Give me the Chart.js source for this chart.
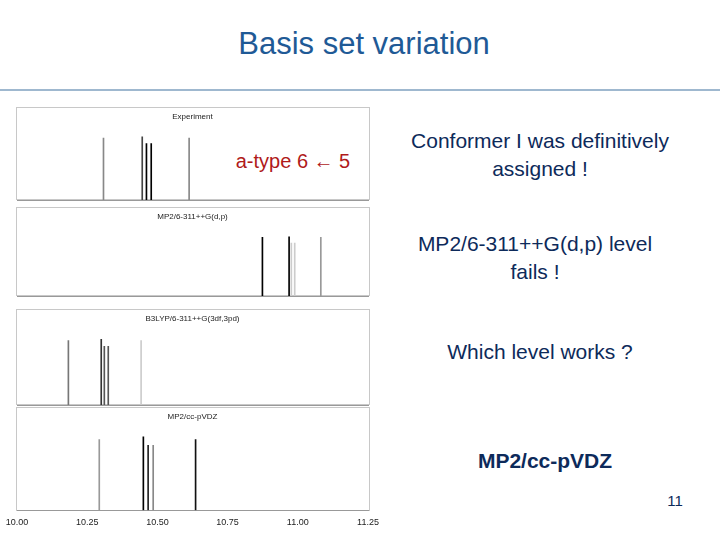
<!DOCTYPE html>
<html><head><meta charset="utf-8">
<script src="https://cdn.jsdelivr.net/npm/chart.js@4"></script>
<style>
body{margin:0;width:720px;height:540px;background:#fff;position:relative;font-family:"Liberation Sans",Arial,sans-serif;overflow:hidden}
.t{position:absolute;text-align:center}
.frame{position:absolute;border:1px solid #c8c8c8;box-sizing:border-box}
canvas{position:absolute}
</style></head><body>
<div class="t" style="left:0;width:728px;top:26px;font-size:31px;color:#1f5a96">Basis set variation</div>
<div style="position:absolute;left:0;top:89px;width:720px;height:2px;background:#9fb8cf"></div>
<div class="t" style="left:222px;width:142px;top:150px;font-size:20px;color:#b01a1a">a-type 6 ← 5</div>
<div class="t" style="left:385px;width:310px;top:127px;font-size:21px;line-height:28px;color:#0d2a5a">Conformer I was definitively assigned !</div>
<div class="t" style="left:400px;width:270px;top:230px;font-size:21px;line-height:28px;color:#0d2a5a">MP2/6-311++G(d,p) level fails !</div>
<div class="t" style="left:380px;width:320px;top:340px;font-size:21px;color:#0d2a5a">Which level works ?</div>
<div class="t" style="left:385px;width:320px;top:449px;font-size:21px;font-weight:bold;color:#0d2a5a">MP2/cc-pVDZ</div>
<div class="t" style="left:655px;width:40px;top:492px;font-size:15px;color:#0d2a5a">11</div>
<script>
const titles=["Experiment","MP2/6-311++G(d,p)","B3LYP/6-311++G(3df,3pd)","MP2/cc-pVDZ"];
const pos=[[10.308,10.446,10.461,10.478,10.613],[10.874,10.969,10.977,10.989,11.082],[10.183,10.300,10.311,10.325,10.442],[10.293,10.450,10.467,10.485,10.636]];
const hts=[[1.0,1.02,0.91,0.91,1.0],[1.0,1.01,0.90,0.90,1.0],[1.0,1.02,0.91,0.91,1.0],[1.0,1.04,0.92,0.92,1.0]];
const cols=[["#888","#444","#000","#000","#888"],["#000","#000","#ccc","#ccc","#999"],["#777","#333","#555","#555","#ccc"],["#999","#000","#222","#888","#111"]];
const xTicks=["10.00","10.25","10.50","10.75","11.00","11.25"];
const frames=[[107,199],[207,295],[309,404],[407,510]];
frames.forEach((f,i)=>{
  const d=document.createElement('div');d.className='frame';
  d.style.cssText=`left:16px;top:${f[0]}px;width:354px;height:${f[1]-f[0]+1}px`;
  document.body.appendChild(d);
  const c=document.createElement('canvas');
  const h=(i==3?f[1]-f[0]+22:f[1]-f[0]+4);
  c.style.cssText=`left:0;top:${f[0]}px;width:385px;height:${h}px`;
  c.width=385;c.height=h;document.body.appendChild(c);
  new Chart(c,{type:'bar',data:{datasets:[{data:pos[i].map((x,k)=>({x:x,y:hts[i][k]})),backgroundColor:cols[i],barThickness:1}]},
   options:{responsive:false,animation:false,events:[],layout:{padding:{left:17,right:17,top:0,bottom:0}},
    plugins:{legend:{display:false},tooltip:{enabled:false},title:{display:true,text:titles[i],color:'#222',font:{size:8,weight:'normal',family:'Liberation Sans'},padding:{top:5,bottom:4}}},
    scales:{x:{type:'linear',min:10,max:11.25,offset:false,grid:{display:false,drawTicks:true,tickLength:3,color:'#888'},border:{color:'#999'},
      ticks:{stepSize:0.25,display:i==3,color:'#222',font:{size:9,family:'Liberation Sans'},padding:4,callback:(v,k)=>xTicks[k]}},
     y:{display:false,min:0,max:1.2}}}});
});
</script>
</body></html>
